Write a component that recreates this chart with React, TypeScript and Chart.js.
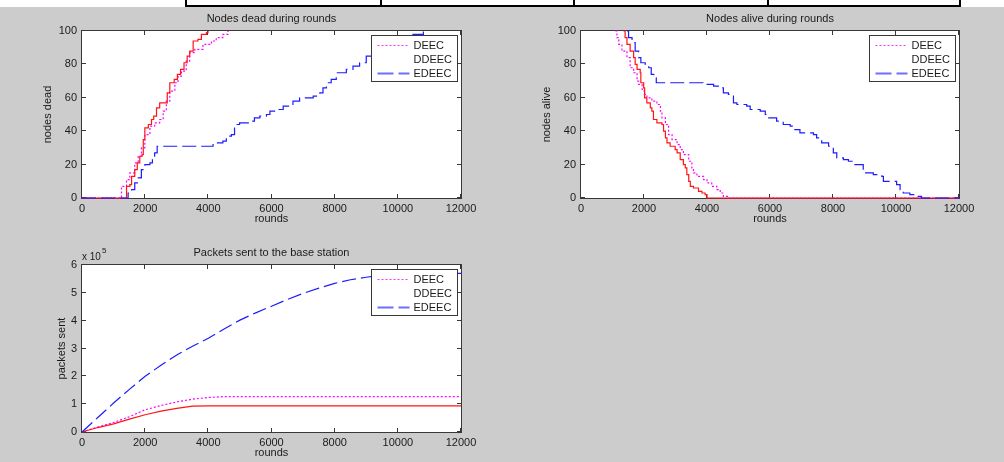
import React, { useEffect, useRef } from "react";
import { Chart, registerables } from "chart.js";

Chart.register(...registerables);

const FONT = "'Liberation Sans', Arial, sans-serif";
const W = 1004;
const H = 462;
const Y_W = 40;
const X_H = 22;

// ---- tick labels ----
const ROUND_TICKS = [0, 2000, 4000, 6000, 8000, 10000, 12000];
const NODE_TICKS = [0, 20, 40, 60, 80, 100];
const PACKET_TICKS = [0, 1, 2, 3, 4, 5, 6]; // x 10^5
const PACKET_EXP = 5;

const SERIES_NAMES = ["DEEC", "DDEEC", "EDEEC"];

// ---- Nodes dead during rounds ----
const DEAD_DEEC_ROUNDS = [0, 1200, 1250, 1410, 1515, 1670, 1780, 1880, 1990, 2150, 2300, 2460, 2570, 2670, 2780, 2940, 3040, 3150, 3300, 3410, 3570, 3830, 4100, 4250, 4460, 4620];
const DEAD_DEEC = [0, 0, 7, 11, 15, 21, 25, 30, 38, 43, 45, 47, 52, 58, 64, 69, 73, 76, 82, 87, 89, 92, 94, 96, 98, 100];

const DEAD_DDEEC_ROUNDS = [0, 1360, 1410, 1515, 1570, 1670, 1750, 1830, 1900, 1940, 1990, 2100, 2200, 2270, 2360, 2460, 2620, 2700, 2780, 2920, 3020, 3120, 3230, 3330, 3410, 3520, 3670, 3780, 3940, 3990];
const DEAD_DDEEC = [0, 0, 7, 8, 13, 17, 21, 25, 26, 35, 42, 44, 47, 49, 54, 57, 57, 63, 69, 71, 74, 77, 81, 85, 88, 94, 95, 98, 99, 100];

const DEAD_EDEEC_ROUNDS = [0, 1410, 1460, 1570, 1670, 1780, 1880, 1990, 2150, 2230, 2300, 2380, 3990, 4150, 4460, 4570, 4730, 4830, 4990, 5300, 5460, 5630, 5840, 5950, 6160, 6370, 6680, 6890, 7320, 7530, 7630, 7740, 7890, 8050, 8370, 8580, 8790, 9000, 9600, 10000, 10230, 10440, 10810];
const DEAD_EDEEC = [0, 0, 3, 5, 9, 12, 17, 20, 21, 23, 27, 31, 31, 33, 34, 37, 38, 44, 45, 46, 48, 49, 50, 52, 53, 55, 58, 60, 61, 63, 66, 69, 71, 75, 77, 79, 81, 85, 90, 92, 97, 98, 100];

// ---- Nodes alive during rounds ----
const ALIVE_DEEC_ROUNDS = [1090, 1140, 1200, 1300, 1460, 1560, 1670, 1780, 1830, 1940, 2010, 2090, 2250, 2410, 2520, 2570, 2680, 2780, 2890, 3050, 3150, 3250, 3420, 3520, 3570, 3680, 3890, 4000, 4150, 4310, 4420, 4520, 4680, 12000];
const ALIVE_DEEC = [100, 96, 92, 88, 84, 78, 75, 70, 68, 65, 62, 60, 58, 56, 52, 48, 44, 38, 35, 32, 29, 26, 22, 18, 15, 13, 11, 9, 7, 5, 3, 1, 0, 0];

const ALIVE_DDEEC_ROUNDS = [1350, 1400, 1460, 1560, 1670, 1720, 1780, 1880, 1900, 1990, 2020, 2090, 2200, 2250, 2300, 2410, 2570, 2620, 2680, 2730, 2830, 2990, 3050, 3150, 3250, 3310, 3360, 3420, 3470, 3570, 3730, 3840, 3940, 4000, 12000];
const ALIVE_DDEEC = [100, 96, 92, 88, 84, 80, 77, 75, 69, 66, 60, 57, 54, 52, 47, 45, 44, 40, 36, 33, 31, 29, 27, 23, 20, 18, 14, 10, 7, 6, 4, 3, 2, 0, 0];

const ALIVE_EDEEC_ROUNDS = [1460, 1510, 1620, 1720, 1830, 1900, 2040, 2150, 2230, 2310, 2390, 3870, 4210, 4420, 4520, 4680, 4840, 4950, 5260, 5370, 5690, 5850, 5900, 6210, 6420, 6640, 6790, 6950, 7380, 7480, 7640, 7860, 8010, 8120, 8330, 8490, 8650, 8960, 9280, 9550, 9600, 10020, 10130, 10230, 10440, 10650, 10810, 12000];
const ALIVE_EDEEC = [100, 96, 93, 88, 84, 81, 80, 78, 74, 72, 69, 68, 67, 66, 63, 62, 57, 56, 55, 53, 52, 50, 48, 46, 44, 43, 41, 39, 38, 36, 33, 31, 27, 24, 23, 22, 20, 15, 14, 13, 10, 8, 5, 3, 2, 1, 0, 0];

// ---- Packets sent to the base station ----
const PKT_ROUNDS = [0, 500, 1000, 1500, 2000, 2500, 3000, 3500, 4000, 4500, 5000, 5500, 6000, 6500, 7000, 7500, 8000, 8500, 9000, 9500, 10000, 11000, 12000];
const PKT_DEEC = [0, 18000, 34000, 55000, 80000, 95000, 108000, 118000, 124000, 127000, 127000, 127000, 127000, 127000, 127000, 127000, 127000, 127000, 127000, 127000, 127000, 127000, 127000];
const PKT_DDEEC = [0, 16000, 29000, 46000, 62000, 75000, 85000, 93000, 94000, 94000, 94000, 94000, 94000, 94000, 94000, 94000, 94000, 94000, 94000, 94000, 94000, 94000, 94000];
const PKT_EDEEC = [0, 52000, 104000, 153000, 200000, 240000, 277000, 308000, 337000, 370000, 402000, 428000, 452000, 476000, 498000, 517000, 534000, 547000, 556000, 563000, 567000, 570000, 570000];

const STYLES: any = {
  DEEC: { color: "#ff00ff", dash: [2, 2], width: 1.2, legendLine: true, legendColor: "#ff30ff", legendDash: [2, 2], legendWidth: 1, order: 3 },
  DDEEC: { color: "#ff1515", dash: [], width: 1.2, legendLine: false, order: 2 },
  EDEEC: { color: "#1c1cff", dash: [14, 5], width: 1.2, legendLine: true, legendColor: "#6e6eff", legendDash: [16, 5], legendWidth: 2, order: 1 },
};

const PANELS: any[] = [
  {
    area: { left: 82, top: 31, right: 461, bottom: 198 },
    title: "Nodes dead during rounds",
    xTitle: "rounds",
    yTitle: "nodes dead",
    yTitleGap: 34,
    yMax: 100,
    yTicks: NODE_TICKS,
    yLabel: (v: number) => String(v),
    stepped: true,
    series: [
      [DEAD_DEEC_ROUNDS, DEAD_DEEC],
      [DEAD_DDEEC_ROUNDS, DEAD_DDEEC],
      [DEAD_EDEEC_ROUNDS, DEAD_EDEEC],
    ],
  },
  {
    area: { left: 581, top: 31, right: 959, bottom: 198 },
    title: "Nodes alive during rounds",
    xTitle: "rounds",
    yTitle: "nodes alive",
    yTitleGap: 34,
    yMax: 100,
    yTicks: NODE_TICKS,
    yLabel: (v: number) => String(v),
    stepped: true,
    series: [
      [ALIVE_DEEC_ROUNDS, ALIVE_DEEC],
      [ALIVE_DDEEC_ROUNDS, ALIVE_DDEEC],
      [ALIVE_EDEEC_ROUNDS, ALIVE_EDEEC],
    ],
  },
  {
    area: { left: 82, top: 265, right: 461, bottom: 432 },
    title: "Packets sent to the base station",
    xTitle: "rounds",
    yTitle: "packets sent",
    yTitleGap: 20,
    yMax: PACKET_TICKS[PACKET_TICKS.length - 1] * Math.pow(10, PACKET_EXP),
    yTicks: PACKET_TICKS.map((t) => t * Math.pow(10, PACKET_EXP)),
    yLabel: (v: number) => String(Math.round(v / Math.pow(10, PACKET_EXP))),
    exponent: PACKET_EXP,
    stepped: false,
    series: [
      [PKT_ROUNDS, PKT_DEEC],
      [PKT_ROUNDS, PKT_DDEEC],
      [PKT_ROUNDS, PKT_EDEEC],
    ],
  },
];

const AXIS_COLOR = "#383838";
const TEXT_COLOR = "#1a1a1a";

function matlabPlugin(p: any) {
  return {
    id: "matlabLook",
    beforeDraw(chart: any) {
      const { ctx, chartArea: a } = chart;
      ctx.save();
      ctx.fillStyle = "#ffffff";
      ctx.fillRect(a.left, a.top, a.right - a.left, a.bottom - a.top);
      ctx.restore();
    },
    beforeDatasetsDraw(chart: any) {
      const { ctx, chartArea: a, scales } = chart;
      ctx.save();
      ctx.strokeStyle = AXIS_COLOR;
      ctx.lineWidth = 1;
      ctx.setLineDash([]);
      ctx.strokeRect(a.left - 0.5, a.top - 0.5, a.right - a.left + 1, a.bottom - a.top + 1);
      const tl = 4;
      ctx.beginPath();
      scales.x.ticks.forEach((t: any) => {
        const px = Math.round(scales.x.getPixelForValue(t.value)) - 0.5;
        ctx.moveTo(px, a.bottom);
        ctx.lineTo(px, a.bottom - tl);
        ctx.moveTo(px, a.top);
        ctx.lineTo(px, a.top + tl);
      });
      scales.y.ticks.forEach((t: any) => {
        const py = Math.round(scales.y.getPixelForValue(t.value)) - 0.5;
        ctx.moveTo(a.left, py);
        ctx.lineTo(a.left + tl, py);
        ctx.moveTo(a.right, py);
        ctx.lineTo(a.right - tl, py);
      });
      ctx.stroke();
      ctx.restore();
    },
    afterDatasetsDraw(chart: any) {
      const { ctx, chartArea: a } = chart;
      ctx.save();
      const bx = Math.round(a.right - 90) + 0.5;
      const by = Math.round(a.top + 4) + 0.5;
      ctx.fillStyle = "#ffffff";
      ctx.fillRect(bx, by, 86, 46);
      ctx.strokeStyle = AXIS_COLOR;
      ctx.lineWidth = 1;
      ctx.setLineDash([]);
      ctx.strokeRect(bx, by, 86, 46);
      ctx.font = `11px ${FONT}`;
      ctx.textBaseline = "middle";
      ctx.textAlign = "left";
      SERIES_NAMES.forEach((name, i) => {
        const st = STYLES[name];
        const ry = Math.round(by + 9 + i * 14.3) + 0.5;
        if (st.legendLine) {
          ctx.save();
          ctx.strokeStyle = st.legendColor;
          ctx.lineWidth = st.legendWidth;
          ctx.setLineDash(st.legendDash);
          ctx.beginPath();
          ctx.moveTo(bx + 6, ry);
          ctx.lineTo(bx + 38, ry);
          ctx.stroke();
          ctx.restore();
        }
        ctx.fillStyle = TEXT_COLOR;
        ctx.fillText(name, bx + 42, ry);
      });
      ctx.restore();
    },
    afterDraw(chart: any) {
      const { ctx, chartArea: a } = chart;
      const cx = (a.left + a.right) / 2;
      const cy = (a.top + a.bottom) / 2;
      ctx.save();
      ctx.fillStyle = TEXT_COLOR;
      ctx.font = `11px ${FONT}`;
      ctx.textAlign = "center";
      ctx.textBaseline = "middle";
      ctx.fillText(p.title, cx, a.top - 12);
      ctx.fillText(p.xTitle, cx, a.bottom + 21);
      ctx.save();
      ctx.translate(a.left - p.yTitleGap, cy);
      ctx.rotate(-Math.PI / 2);
      ctx.fillText(p.yTitle, 0, 0);
      ctx.restore();
      if (p.exponent) {
        ctx.textAlign = "left";
        ctx.font = `10px ${FONT}`;
        const base = "x 10";
        ctx.fillText(base, a.left, a.top - 8);
        const w = ctx.measureText(base).width;
        ctx.font = `8px ${FONT}`;
        ctx.fillText(String(p.exponent), a.left + w + 1, a.top - 14);
      }
      ctx.restore();
    },
  };
}

function buildConfig(p: any): any {
  const a = p.area;
  const tickFont = { family: FONT, size: 11 };
  return {
    type: "line",
    data: {
      datasets: p.series.map((s: any, i: number) => {
        const name = SERIES_NAMES[i];
        const st = STYLES[name];
        return {
          label: name,
          data: s[0].map((x: number, j: number) => ({ x, y: s[1][j] })),
          borderColor: st.color,
          backgroundColor: st.color,
          borderWidth: st.width,
          borderDash: st.dash,
          stepped: p.stepped ? "before" : false,
          pointRadius: 0,
          fill: false,
          tension: 0,
          clip: 2,
          order: st.order,
        };
      }),
    },
    options: {
      responsive: false,
      animation: false,
      events: [],
      layout: {
        padding: {
          left: a.left - Y_W,
          right: W - a.right,
          top: a.top,
          bottom: H - a.bottom - X_H,
        },
      },
      plugins: {
        legend: { display: false },
        tooltip: { enabled: false },
        title: { display: false },
      },
      scales: {
        x: {
          type: "linear",
          min: 0,
          max: 12000,
          grid: { display: false, drawTicks: false },
          border: { display: false },
          afterBuildTicks: (s: any) => {
            s.ticks = ROUND_TICKS.map((v) => ({ value: v }));
          },
          afterFit: (s: any) => {
            s.height = X_H;
          },
          ticks: {
            padding: 4,
            maxRotation: 0,
            autoSkip: false,
            color: TEXT_COLOR,
            font: tickFont,
            callback: (v: any) => String(v),
          },
        },
        y: {
          type: "linear",
          min: 0,
          max: p.yMax,
          grid: { display: false, drawTicks: false },
          border: { display: false },
          afterBuildTicks: (s: any) => {
            s.ticks = p.yTicks.map((v: number) => ({ value: v }));
          },
          afterFit: (s: any) => {
            s.width = Y_W;
          },
          ticks: {
            padding: 5,
            autoSkip: false,
            color: TEXT_COLOR,
            font: tickFont,
            callback: (v: any) => p.yLabel(v),
          },
        },
      },
    },
    plugins: [matlabPlugin(p)],
  };
}

function Panel({ p }: { p: any }) {
  const ref = useRef<HTMLCanvasElement>(null);
  useEffect(() => {
    const chart = new Chart(ref.current as HTMLCanvasElement, buildConfig(p));
    return () => chart.destroy();
  }, [p]);
  return (
    <canvas
      ref={ref}
      width={W}
      height={H}
      style={{ position: "absolute", left: 0, top: 0, width: W, height: H, pointerEvents: "none" }}
    />
  );
}

const TABLE_LINES = [185, 380, 573, 767, 959];

export default function App() {
  return (
    <div
      style={{
        position: "absolute",
        left: 0,
        top: 0,
        width: W,
        height: H,
        background: "#cccccc",
        overflow: "hidden",
      }}
    >
      <div style={{ position: "absolute", left: 0, top: 0, width: W, height: 7, background: "#ffffff" }} />
      <div style={{ position: "absolute", left: 185, top: 5, width: 776, height: 2, background: "#000" }} />
      {TABLE_LINES.map((x) => (
        <div key={x} style={{ position: "absolute", left: x, top: 0, width: 2, height: 7, background: "#000" }} />
      ))}
      {PANELS.map((p, i) => (
        <Panel key={i} p={p} />
      ))}
    </div>
  );
}
